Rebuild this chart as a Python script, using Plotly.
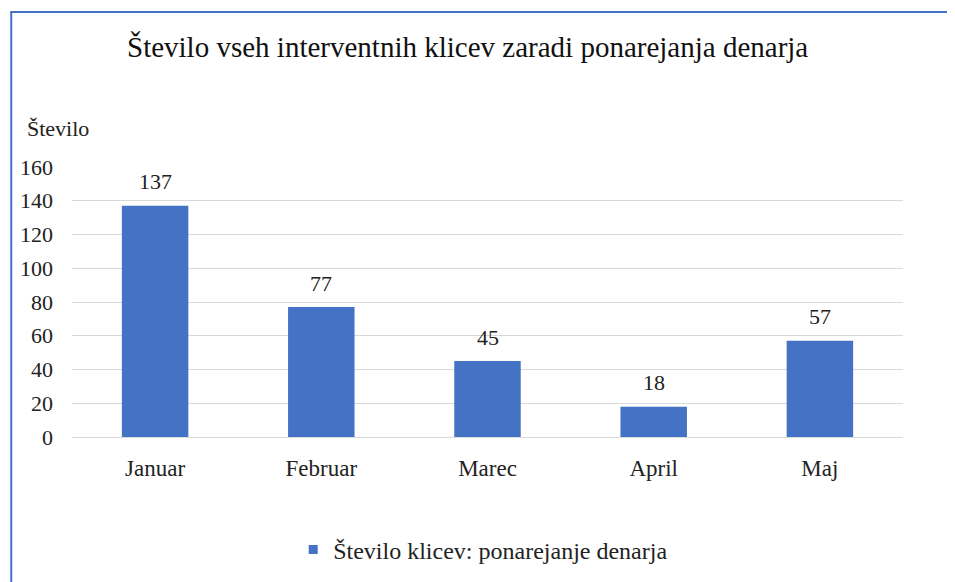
import plotly.graph_objects as go

categories = ["Januar", "Februar", "Marec", "April", "Maj"]
values = [137, 77, 45, 18, 57]
series_name = "Število klicev: ponarejanje denarja"
title_text = "Število vseh interventnih klicev zaradi ponarejanja denarja"
y_title = "Število"
y_ticks = [0, 20, 40, 60, 80, 100, 120, 140, 160]

W, H = 955, 582
OFF = 8  # page body margin offset
L, R, T, B = 69 - OFF, 52 + OFF, 167 - OFF, 145 + OFF
pw = W - L - R
ph = H - T - B


def px(x):
    return (x - OFF - L) / pw


def py(y):
    return (H - B - (y - OFF)) / ph


FONT = "Liberation Serif"
BLUE = "#4472C4"
TXT = "#222222"

fig = go.Figure()
fig.add_trace(go.Bar(
    x=categories, y=values, name=series_name,
    marker=dict(color=BLUE, line=dict(width=0)),
    width=0.4, showlegend=False,
))
# legend entry with a small square symbol
fig.add_trace(go.Scatter(
    x=[None], y=[None], mode="markers", name=series_name,
    marker=dict(symbol="square", size=9, color=BLUE),
    showlegend=True,
))
for c, v in zip(categories, values):
    fig.add_annotation(x=c, y=v, text=str(v), showarrow=False, yanchor="middle",
                       yshift=24, font=dict(family=FONT, size=22, color=TXT))

fig.update_layout(
    width=W, height=H,
    margin=dict(l=L, r=R, t=T, b=B),
    paper_bgcolor="white", plot_bgcolor="white",
    font=dict(family=FONT, size=22, color=TXT),
    xaxis=dict(showgrid=False, showline=False, ticks="", tickfont=dict(size=23),
               ticklabelstandoff=15),
    yaxis=dict(range=[0, 160], tickvals=y_ticks, showgrid=True, gridcolor="#d9d9d9",
               gridwidth=1, zeroline=True, zerolinecolor="#d9d9d9", zerolinewidth=1,
               showline=False, ticks="", tickfont=dict(size=22), ticklabelstandoff=18),
    showlegend=True,
    legend=dict(orientation="h", x=px(291), xanchor="left",
                y=py(550), yanchor="middle",
                font=dict(family=FONT, size=24, color=TXT),
                itemwidth=30),
)

fig.add_annotation(text=title_text, xref="paper", yref="paper",
                   x=px(466), y=py(47), xanchor="center", yanchor="middle",
                   showarrow=False, font=dict(family=FONT, size=29, color="#111111"))
fig.add_annotation(text=y_title, xref="paper", yref="paper",
                   x=px(22), y=py(128), xanchor="left", yanchor="middle",
                   showarrow=False, font=dict(family=FONT, size=22, color=TXT))

# chart-area border (top and left edges visible)
fig.add_shape(type="line", xref="paper", yref="paper",
              x0=px(7), x1=px(W + OFF), y0=py(12), y1=py(12),
              line=dict(color=BLUE, width=2))
fig.add_shape(type="line", xref="paper", yref="paper",
              x0=px(8), x1=px(8), y0=py(12), y1=py(H + OFF),
              line=dict(color=BLUE, width=2))

fig.write_html("out.html")
